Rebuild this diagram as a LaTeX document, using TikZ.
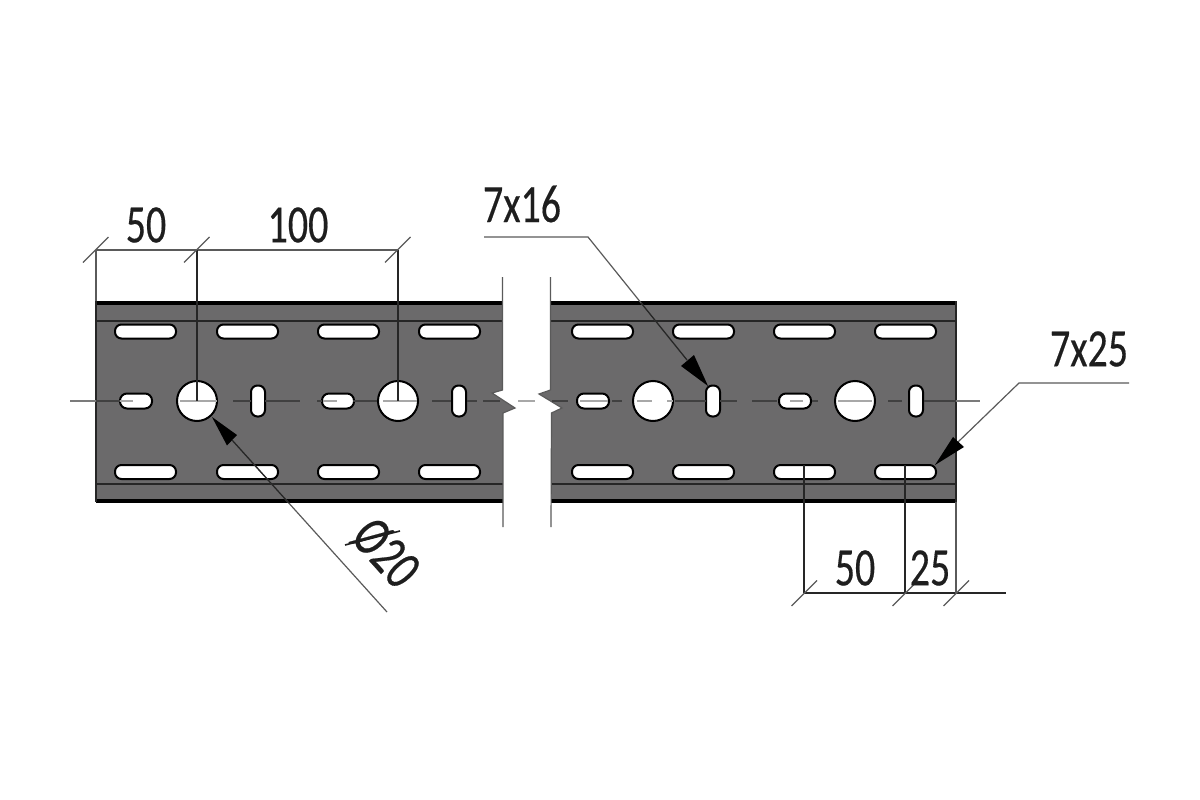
\documentclass[tikz,border=0pt]{standalone}
\usepackage{fontspec}
\setmainfont[FakeStretch=0.74,FakeBold=0.3]{Carlito}
\definecolor{plate}{HTML}{6B6A6B}
\definecolor{ink}{HTML}{1E1E1E}
\definecolor{leader}{HTML}{5A5A5A}
\definecolor{axisdark}{HTML}{404040}
\definecolor{axislight}{HTML}{A8A8A8}
\tikzset{
  hole/.style={draw=black,fill=white,line width=2pt},
  dim/.style={draw=leader,line width=1.2pt},
  dimdark/.style={draw=black!85,line width=1.2pt},
  dimtext/.style={text=ink,font=\fontsize{54}{54}\selectfont,inner sep=0pt},
  heavy/.style={draw=black,line width=4pt},
  thin plate/.style={draw=black!85,line width=2pt},
  tipfill/.style={fill=black,draw=none}
}
\begin{document}
\begin{tikzpicture}[x=1pt,y=-1pt]
\useasboundingbox (0,0) rectangle (1200,800);
\fill[white] (0,0) rectangle (1200,800);
% plate
\fill[plate] (96,301) rectangle (956,502);
\draw[heavy] (96,302.5) -- (956,302.5);
\draw[heavy] (96,501) -- (956,501);
\draw[thin plate] (96,321) -- (956,321);
\draw[thin plate] (96,484) -- (956,484);
\draw[thin plate] (96,301) -- (96,502);
\draw[thin plate] (956,301) -- (956,502);
% break
\fill[white] (502.5,270) -- (550.5,270) -- (550.5,390) -- (539,394) -- (562,408) -- (551.5,413) -- (551,530) -- (503,530) -- (503,413) -- (515,408) -- (492,393) -- (502.5,390) -- cycle;
\draw[dim] (502.5,277) -- (502.5,390) -- (492,393) -- (515,408) -- (503,413) -- (503,527);
\draw[dim] (550.5,277) -- (550.5,390) -- (539,394) -- (562,408) -- (551.5,413) -- (551,527);
% slots
\foreach \x in {115,217,318,419,572,673,774,875} {
  \draw[hole,rounded corners=6.5pt] (\x,324.5) rectangle ++(61,14);
  \draw[hole,rounded corners=6.5pt] (\x,465) rectangle ++(61,14);
}
\foreach \x in {120,322,577,779} {
  \draw[hole,rounded corners=7pt] (\x,393.5) rectangle ++(32,15);
}
\foreach \x in {251,452,706,909} {
  \draw[hole,rounded corners=6.5pt] (\x,385.5) rectangle ++(14,31);
}
\foreach \x in {197,398,653,855} {
  \draw[hole] (\x,401) circle (20);
}
% axis
\foreach \a/\b in {120/133,180/217,323/337,383/417,518/535,580/608,637/652,667/673,790/803,838/872}
  \draw[axislight,line width=1.6pt] (\a,401) -- (\b,401);
\foreach \a/\b in {70/96,956/980}
  \draw[leader!80,line width=1.4pt] (\a,401) -- (\b,401);
\foreach \a/\b in {96/120,233/251,265/300,317/322,353/377,432/451,467/477,483/500,552/568,612/622,675/706,720/737,752/777,812/818,888/902,924/956}
  \draw[axisdark,line width=1.6pt] (\a,401) -- (\b,401);
% top dimensions
\draw[dim] (96,250) -- (398,250);
\draw[dim] (96,250) -- (96,301);
\draw[dimdark] (197,250) -- (197,401);
\draw[dimdark] (398,250) -- (398,401);
\foreach \x in {96,197,398}
  \draw[dim] (\x-13,262.5) -- (\x+12.5,237);
\node[dimtext] (t50a) at (146,225) {50};
\node[dimtext] (t100) at (298,225) {100};
% bottom dimensions
\draw[dimdark] (804,593) -- (1006,593);
\draw[dimdark] (804,465) -- (804,593);
\draw[dimdark] (905,465) -- (905,593);
\draw[dim] (956,502) -- (956,593);
\foreach \x in {804,905,956}
  \draw[dim] (\x-12.5,606) -- (\x+13,580.5);
\node[dimtext] (t50b) at (855,568) {50};
\node[dimtext] (t25) at (930,568) {25};
% leader 7x16
\node[dimtext] (t716) at (522,204) {7x16};
\draw[dim] (484,237) -- (588,237) -- (687,360);
\fill[tipfill] (708,386) -- (681,366) -- (694,355) -- cycle;
% leader 7x25
\node[dimtext] (t725) at (1089,349) {7x25};
\draw[dim] (1129,383) -- (1019,383) -- (958,442);
\fill[tipfill] (935,465) -- (953,437) -- (964,447) -- cycle;
% leader dia 20
\draw[dim] (387,612) -- (232,440);
\fill[tipfill] (212,417) -- (237,435) -- (227,445.5) -- cycle;
% leader parts that lie on the plate look darker
\begin{scope}
  \clip (96,303) rectangle (956,502);
  \draw[dimdark] (588,237) -- (687,360);
  \draw[dimdark] (1019,383) -- (958,442);
  \draw[dimdark] (387,612) -- (232,440);
\end{scope}
\node[dimtext,font=\fontsize{57}{57}\selectfont,rotate=-48] (tdia) at (386,553) {Ø20};
\draw[draw=ink,line width=1.6pt] (345,545) -- (400,531);
\end{tikzpicture}
\end{document}
